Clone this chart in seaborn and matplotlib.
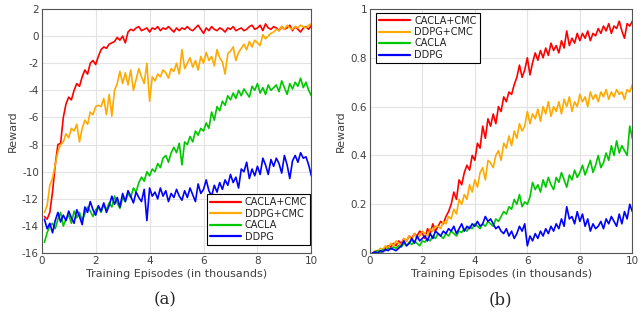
import numpy as np
import pandas as pd
import matplotlib
matplotlib.use("Agg")
import matplotlib.pyplot as plt
import seaborn as sns

# episodes (thousands), one sample every 100 episodes
episodes = np.round(np.arange(1, 101) * 0.1, 1)

methods = ["CACLA+CMC", "DDPG+CMC", "CACLA", "DDPG"]
colors = ["#ff0000", "#ffaa00", "#00c800", "#0000ff"]

# ---- panel (a) ----
a_cacla_cmc = [
    -13.3, -13.5, -13.0, -11.5, -9.5, -8.0, -7.9, -6.0, -5.0, -4.5,
    -4.7, -4.0, -3.5, -3.7, -3.0, -2.5, -2.8, -2.0, -1.8, -2.1,
    -1.5, -1.0, -0.8, -0.9, -0.6, -0.5, -0.4, -0.1, -0.3, 0.0,
    -0.5, 0.3, 0.5, 0.4, 0.6, 0.7, 0.4, 0.5, 0.6, 0.3,
    0.6, 0.5, 0.7, 0.4, 0.6, 0.5, 0.7, 0.5, 0.3, 0.6,
    0.4, 0.6, 0.5, 0.7, 0.5, 0.4, 0.6, 0.8, 0.5, 0.2,
    0.6, 0.4, 0.7, 0.5, 0.4, 0.6, 0.5, 0.3, 0.6, 0.5,
    0.7, 0.4, 0.5, 0.6, 0.4, 0.5, 0.7, 0.8, 0.5, 0.6,
    0.8, 0.4, 0.9, 0.6, 0.5, 0.7, 0.6, 0.4, 0.7, 0.5,
    0.6, 0.8, 0.4, 0.7, 0.5, 0.3, 0.6, 0.7, 0.5, 0.8,
]
a_ddpg_cmc = [
    -13.0, -12.5, -11.0, -10.5, -9.5, -8.5, -8.0, -7.8, -7.2, -7.5,
    -6.8, -7.0, -6.5, -7.8, -6.8, -6.2, -6.5, -5.6, -5.8, -5.2,
    -5.1, -5.2, -4.6, -5.8, -4.3, -5.9, -4.0, -3.5, -2.6, -3.5,
    -2.7, -3.6, -2.5, -4.0, -3.2, -2.4, -3.0, -3.5, -2.0, -4.8,
    -3.0, -3.3, -2.8, -3.0, -2.5, -2.7, -3.1, -2.4, -2.6, -2.0,
    -2.8, -1.0, -2.4, -2.0, -1.6, -2.3, -1.8, -2.5, -1.5, -2.0,
    -1.2, -1.8, -1.5, -2.2, -1.0, -1.6, -1.9, -2.8, -1.3, -1.1,
    -0.8, -1.8, -1.2, -0.9, -0.6, -1.0, -0.4, -0.8, -0.3, -0.5,
    -0.7, 0.1, -0.2, 0.0, 0.2, 0.3, 0.5, 0.4, 0.7, 0.5,
    0.8, 0.6, 0.5, 0.7, 0.6, 0.8, 0.7, 0.6, 0.8, 0.9,
]
a_cacla = [
    -15.2, -14.5, -14.0, -13.8, -14.2, -13.5, -13.0, -14.0, -13.5, -13.2,
    -13.8, -12.9, -13.4, -13.0, -13.6, -13.1, -12.6, -12.9, -13.3, -12.8,
    -12.6, -13.0, -12.4, -12.8, -12.3, -12.6, -11.8, -12.3, -12.7, -11.9,
    -12.2, -11.6, -11.9, -11.2, -11.5, -10.8, -10.4, -10.7, -10.0, -10.3,
    -9.8, -10.0, -9.4, -9.7, -9.0, -8.8, -9.3, -8.6, -8.2, -8.6,
    -7.9, -9.5, -7.8, -8.0, -7.4, -7.8, -7.0, -7.3, -6.8, -7.0,
    -6.4, -6.8, -5.6, -6.2, -5.2, -5.5, -4.8, -5.1, -4.4, -4.7,
    -4.2, -4.6, -4.0, -4.4, -3.9, -4.2, -4.5, -3.7, -4.0, -3.5,
    -4.2, -3.8, -4.3, -3.6, -4.0, -3.8, -3.6, -4.1, -3.3, -3.8,
    -4.3, -3.5, -3.9, -3.4, -3.7, -3.1, -3.8, -3.4, -4.0, -4.4,
]
a_ddpg = [
    -13.5, -14.2, -13.8, -14.5, -13.6, -13.0, -13.7, -13.2, -13.6, -12.9,
    -13.4, -13.8, -12.8, -13.3, -13.9, -12.6, -13.0, -12.2, -12.8, -13.2,
    -12.5, -12.9, -12.3, -13.0, -12.5, -11.8, -12.4, -11.9, -12.6, -11.6,
    -12.2, -11.4, -11.8, -12.3, -11.5, -11.9, -12.2, -11.3, -13.6, -11.2,
    -11.8, -11.5, -12.0, -11.2, -11.8, -11.4, -12.2, -11.6, -11.9, -11.3,
    -11.8, -12.1, -11.4, -11.9, -11.2, -11.7, -12.2, -10.9, -11.6, -11.3,
    -10.6, -11.4, -11.8, -11.0, -11.5, -10.8, -11.3, -10.6, -11.0, -10.2,
    -10.8, -10.4, -11.2, -9.8, -10.0, -9.3, -10.5, -9.8, -10.3, -9.6,
    -10.2, -9.0, -9.5, -10.2, -9.1, -9.6, -9.0, -9.4, -10.1, -8.8,
    -9.5, -10.5, -9.2, -8.8, -9.3, -8.6, -9.0, -8.9, -9.5, -10.3,
]

# ---- panel (b) ----
b_cacla_cmc = [
    0.0, 0.005, 0.01, 0.0, 0.015, 0.02, 0.03, 0.025, 0.04, 0.03,
    0.05, 0.04, 0.06, 0.05, 0.07, 0.06, 0.08, 0.07, 0.09, 0.08,
    0.06, 0.10, 0.08, 0.12, 0.09, 0.11, 0.13, 0.12, 0.15, 0.17,
    0.20, 0.25, 0.22, 0.30, 0.28, 0.33, 0.36, 0.34, 0.40, 0.38,
    0.45, 0.43, 0.52, 0.47, 0.55, 0.52, 0.57, 0.53, 0.60, 0.58,
    0.64, 0.62, 0.66, 0.65, 0.69, 0.72, 0.77, 0.72, 0.75, 0.80,
    0.73, 0.78, 0.82, 0.79, 0.83, 0.80, 0.84, 0.81, 0.86, 0.83,
    0.85, 0.82, 0.87, 0.84, 0.91, 0.85, 0.88, 0.86, 0.90, 0.87,
    0.90, 0.88, 0.91, 0.87, 0.90, 0.89, 0.92, 0.90, 0.93, 0.91,
    0.94, 0.90, 0.93, 0.92, 0.95, 0.91, 0.88, 0.94, 0.93, 0.95,
]
b_ddpg_cmc = [
    0.0, 0.01, 0.005, 0.02, 0.015, 0.03, 0.02, 0.04, 0.03, 0.05,
    0.04, 0.03, 0.06, 0.05, 0.07, 0.05, 0.08, 0.06, 0.07, 0.09,
    0.08, 0.07, 0.10, 0.09, 0.11, 0.11, 0.10, 0.13, 0.12, 0.15,
    0.14, 0.18, 0.16, 0.22, 0.20, 0.24, 0.22, 0.28, 0.25, 0.30,
    0.27, 0.33, 0.35, 0.30, 0.38, 0.37, 0.35, 0.40, 0.42, 0.38,
    0.45, 0.43, 0.48, 0.44, 0.50, 0.47, 0.53, 0.50, 0.52, 0.58,
    0.53, 0.57, 0.55, 0.59, 0.54, 0.60, 0.57, 0.62, 0.56, 0.60,
    0.58, 0.62, 0.57, 0.63, 0.60, 0.64, 0.58, 0.62, 0.60, 0.65,
    0.62, 0.64, 0.60, 0.66, 0.63, 0.65, 0.62, 0.66, 0.64, 0.67,
    0.63, 0.66, 0.64, 0.67, 0.65, 0.66, 0.63, 0.67, 0.66, 0.69,
]
b_cacla = [
    0.0, 0.005, 0.01, 0.0, 0.015, 0.01, 0.02, 0.015, 0.025, 0.02,
    0.03, 0.025, 0.04, 0.03, 0.045, 0.035, 0.05, 0.04, 0.03, 0.05,
    0.045, 0.06, 0.05, 0.07, 0.06, 0.08, 0.07, 0.06, 0.08, 0.07,
    0.09, 0.08, 0.07, 0.09, 0.085, 0.10, 0.09, 0.11, 0.10, 0.12,
    0.11, 0.10, 0.12, 0.11, 0.13, 0.12, 0.11, 0.14, 0.13, 0.15,
    0.17, 0.16, 0.19, 0.18, 0.22, 0.20, 0.24, 0.19, 0.21, 0.20,
    0.23, 0.29, 0.26, 0.28, 0.25, 0.30, 0.27, 0.31, 0.28, 0.26,
    0.31, 0.29, 0.33, 0.30, 0.27, 0.32, 0.30, 0.34, 0.31, 0.33,
    0.36, 0.32, 0.35, 0.38, 0.33, 0.36, 0.40, 0.35, 0.37, 0.41,
    0.38, 0.44, 0.40, 0.46, 0.41, 0.44, 0.42, 0.40, 0.52, 0.47,
]
b_ddpg = [
    0.0, 0.005, 0.0, 0.01, 0.005, 0.015, 0.01, 0.02, 0.015, 0.01,
    0.02, 0.03, 0.05, 0.03, 0.04, 0.06, 0.04, 0.07, 0.05, 0.06,
    0.07, 0.05, 0.08, 0.06, 0.09, 0.08, 0.07, 0.09, 0.08, 0.10,
    0.09, 0.11, 0.08, 0.10, 0.12, 0.09, 0.11, 0.10, 0.12, 0.11,
    0.13, 0.11, 0.12, 0.15, 0.13, 0.14, 0.12, 0.10, 0.11, 0.09,
    0.08, 0.10, 0.07, 0.09, 0.06, 0.08, 0.11, 0.09, 0.12, 0.03,
    0.07, 0.05, 0.08, 0.06, 0.09, 0.07, 0.10, 0.08, 0.11, 0.09,
    0.12, 0.10, 0.14, 0.11, 0.19, 0.14, 0.15, 0.12, 0.17, 0.13,
    0.16, 0.11, 0.14, 0.09, 0.12, 0.10, 0.11, 0.13, 0.10, 0.14,
    0.12, 0.15, 0.13, 0.11, 0.16, 0.12, 0.17, 0.14, 0.20, 0.17,
]


def to_long(series):
    frames = []
    for name, vals in zip(methods, series):
        frames.append(pd.DataFrame({"episode": episodes, "reward": vals, "method": name}))
    return pd.concat(frames, ignore_index=True)


df_a = to_long([a_cacla_cmc, a_ddpg_cmc, a_cacla, a_ddpg])
df_b = to_long([b_cacla_cmc, b_ddpg_cmc, b_cacla, b_ddpg])

sns.set_style("whitegrid")
plt.rcParams["font.family"] = ["DejaVu Sans"]

fig = plt.figure(figsize=(6.42, 3.2), dpi=100)
ax_a = fig.add_axes([0.065, 0.209, 0.42, 0.763])
ax_b = fig.add_axes([0.576, 0.209, 0.409, 0.763])

palette = dict(zip(methods, colors))
tick_col = "#404040"


def style_axis(ax, yticks, ylim, yticklabels):
    ax.set_xlim(0, 10)
    ax.set_ylim(*ylim)
    ax.set_xticks([0, 2, 4, 6, 8, 10])
    ax.set_yticks(yticks)
    ax.set_yticklabels(yticklabels)
    ax.grid(True, color="#e3e3e3", linewidth=0.8)
    for sp in ax.spines.values():
        sp.set_visible(True)
        sp.set_color("#555555")
        sp.set_linewidth(0.8)
    ax.tick_params(axis="both", labelsize=7.5, colors=tick_col, direction="in",
                   length=2.5, pad=2)
    ax.set_xlabel("Training Episodes (in thousands)", fontsize=8, color=tick_col, labelpad=2)
    ax.set_ylabel("Reward", fontsize=8, color=tick_col, labelpad=3)


for ax, df in [(ax_a, df_a), (ax_b, df_b)]:
    sns.lineplot(data=df, x="episode", y="reward", hue="method", hue_order=methods,
                 palette=palette, linewidth=1.2, ax=ax)

style_axis(ax_a, list(range(-16, 3, 2)), (-16, 2), [str(v) for v in range(-16, 3, 2)])
style_axis(ax_b, [0, 0.2, 0.4, 0.6, 0.8, 1.0], (0, 1), ["0", "0.2", "0.4", "0.6", "0.8", "1"])

for ax, loc, anchor in [(ax_a, "lower right", (0.995, 0.035)), (ax_b, "upper left", (0.025, 0.985))]:
    handles, labels = ax.get_legend_handles_labels()
    leg = ax.legend(handles, labels, loc=loc, bbox_to_anchor=anchor, fontsize=7,
                    frameon=True, fancybox=False, edgecolor="black", framealpha=1,
                    handlelength=3.2, handletextpad=0.4, borderpad=0.3, labelspacing=0.15,
                    borderaxespad=0)
    leg.get_frame().set_linewidth(0.8)
    for line in leg.get_lines():
        line.set_linewidth(1.6)
    for t in leg.get_texts():
        t.set_color("#222222")

fig.text(0.257, 0.062, "(a)", fontsize=12, family="DejaVu Serif", ha="center", va="center")
fig.text(0.78, 0.062, "(b)", fontsize=12, family="DejaVu Serif", ha="center", va="center")

fig.savefig("out.png", dpi=100)
